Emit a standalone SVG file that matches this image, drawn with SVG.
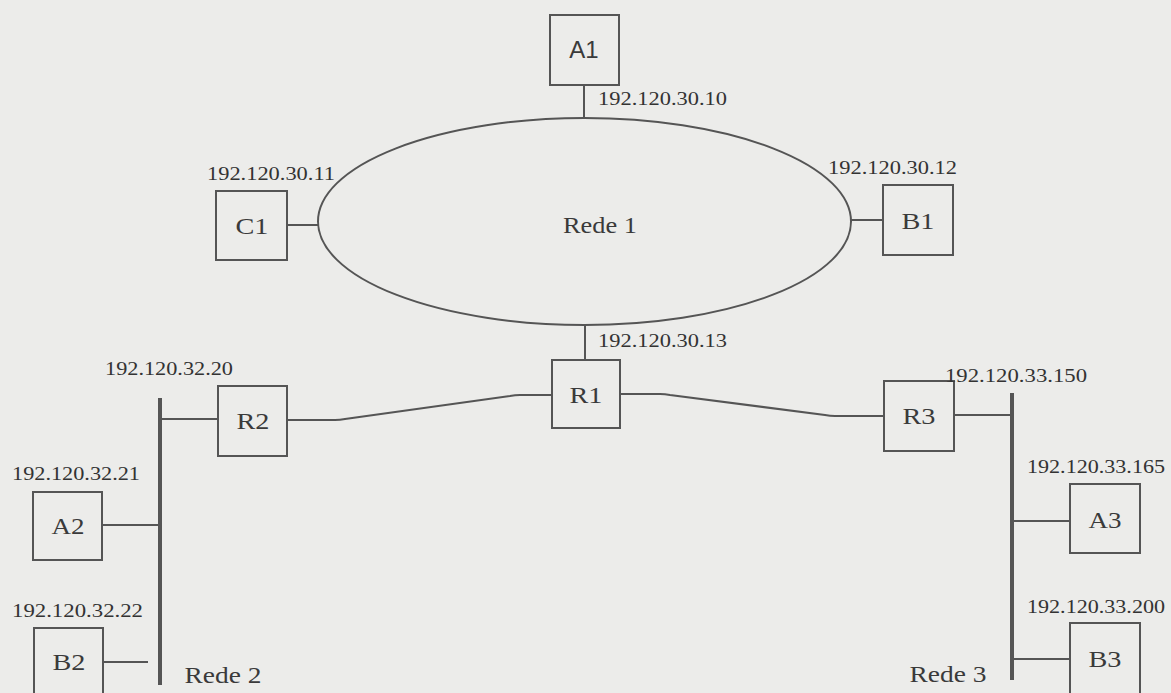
<svg xmlns="http://www.w3.org/2000/svg" width="1171" height="693" viewBox="0 0 1171 693">
<style>
.box{fill:none;stroke:#555;stroke-width:2}
.ln{fill:none;stroke:#555;stroke-width:2;stroke-linejoin:round}
.bus{fill:none;stroke:#555;stroke-width:4}
.ip{font-family:"Liberation Serif",serif;font-size:19px;fill:#333}
.lb{font-family:"Liberation Serif",serif;font-size:24px;fill:#3a3a3a;text-anchor:middle}
</style>
<rect x="0" y="0" width="1171" height="693" fill="#ececea"/>
<g id="connectors">
<line class="ln" x1="584" y1="85" x2="584" y2="118"/>
<line class="ln" x1="287" y1="225" x2="318" y2="225"/>
<line class="ln" x1="851" y1="220" x2="883" y2="220"/>
<line class="ln" x1="585" y1="325" x2="585" y2="360"/>
<path class="ln" d="M287,420 L335,420 Q340,420 345,419 L510,396 Q515,395 520,395 L552,395"/>
<path class="ln" d="M620,394 L660,394 Q665,394 670,395 L825,415 Q830,416 835,416 L884,416"/>
<line class="ln" x1="954" y1="415" x2="1012" y2="415"/>
<line class="ln" x1="160" y1="419" x2="218" y2="419"/>
<line class="ln" x1="102" y1="525" x2="160" y2="525"/>
<line class="ln" x1="103" y1="662" x2="148" y2="662"/>
<line class="ln" x1="1012" y1="521" x2="1070" y2="521"/>
<line class="ln" x1="1012" y1="659" x2="1070" y2="659"/>
</g>
<g id="rede1">
<ellipse class="ln" cx="584.5" cy="221.5" rx="266.5" ry="103.5"/>
<text class="lb" x="600" y="233" textLength="74" lengthAdjust="spacingAndGlyphs">Rede 1</text>
</g>
<g id="rede2">
<line class="bus" x1="160" y1="398" x2="160" y2="685"/>
<text class="lb" x="223" y="683" textLength="77" lengthAdjust="spacingAndGlyphs">Rede 2</text>
</g>
<g id="rede3">
<line class="bus" x1="1012" y1="393" x2="1012" y2="680"/>
<text class="lb" x="948" y="682" textLength="77" lengthAdjust="spacingAndGlyphs">Rede 3</text>
</g>
<g id="A1">
<rect class="box" x="550" y="15" width="69" height="70"/>
<text class="lb" x="584" y="58" style="font-family:'Liberation Sans Narrow','Liberation Sans',sans-serif">A1</text>
<text class="ip" x="598" y="105" textLength="129" lengthAdjust="spacingAndGlyphs">192.120.30.10</text>
</g>
<g id="C1">
<rect class="box" x="216" y="191" width="71" height="69"/>
<text class="lb" x="252" y="234" textLength="33" lengthAdjust="spacingAndGlyphs">C1</text>
<text class="ip" x="207" y="180" textLength="128" lengthAdjust="spacingAndGlyphs">192.120.30.11</text>
</g>
<g id="B1">
<rect class="box" x="883" y="185" width="70" height="70"/>
<text class="lb" x="918" y="229" textLength="33" lengthAdjust="spacingAndGlyphs">B1</text>
<text class="ip" x="828" y="174" textLength="129" lengthAdjust="spacingAndGlyphs">192.120.30.12</text>
</g>
<g id="R1">
<rect class="box" x="552" y="360" width="68" height="68"/>
<text class="lb" x="586" y="403" textLength="33" lengthAdjust="spacingAndGlyphs">R1</text>
<text class="ip" x="598" y="347" textLength="129" lengthAdjust="spacingAndGlyphs">192.120.30.13</text>
</g>
<g id="R2">
<rect class="box" x="218" y="386" width="69" height="70"/>
<text class="lb" x="253" y="429" textLength="33" lengthAdjust="spacingAndGlyphs">R2</text>
<text class="ip" x="105" y="375" textLength="128" lengthAdjust="spacingAndGlyphs">192.120.32.20</text>
</g>
<g id="R3">
<rect class="box" x="884" y="381" width="70" height="70"/>
<text class="lb" x="919" y="424" textLength="33" lengthAdjust="spacingAndGlyphs">R3</text>
<text class="ip" x="945" y="382" textLength="142" lengthAdjust="spacingAndGlyphs">192.120.33.150</text>
</g>
<g id="A2">
<rect class="box" x="33" y="492" width="69" height="68"/>
<text class="lb" x="68" y="534" textLength="33" lengthAdjust="spacingAndGlyphs">A2</text>
<text class="ip" x="12" y="480" textLength="128" lengthAdjust="spacingAndGlyphs">192.120.32.21</text>
</g>
<g id="B2">
<rect class="box" x="34" y="628" width="69" height="75"/>
<text class="lb" x="69" y="670" textLength="33" lengthAdjust="spacingAndGlyphs">B2</text>
<text class="ip" x="12" y="617" textLength="131" lengthAdjust="spacingAndGlyphs">192.120.32.22</text>
</g>
<g id="A3">
<rect class="box" x="1070" y="484" width="70" height="69"/>
<text class="lb" x="1105" y="528" textLength="33" lengthAdjust="spacingAndGlyphs">A3</text>
<text class="ip" x="1027" y="473" textLength="138" lengthAdjust="spacingAndGlyphs">192.120.33.165</text>
</g>
<g id="B3">
<rect class="box" x="1070" y="623" width="70" height="80"/>
<text class="lb" x="1105" y="667" textLength="33" lengthAdjust="spacingAndGlyphs">B3</text>
<text class="ip" x="1027" y="613" textLength="138" lengthAdjust="spacingAndGlyphs">192.120.33.200</text>
</g>
</svg>
